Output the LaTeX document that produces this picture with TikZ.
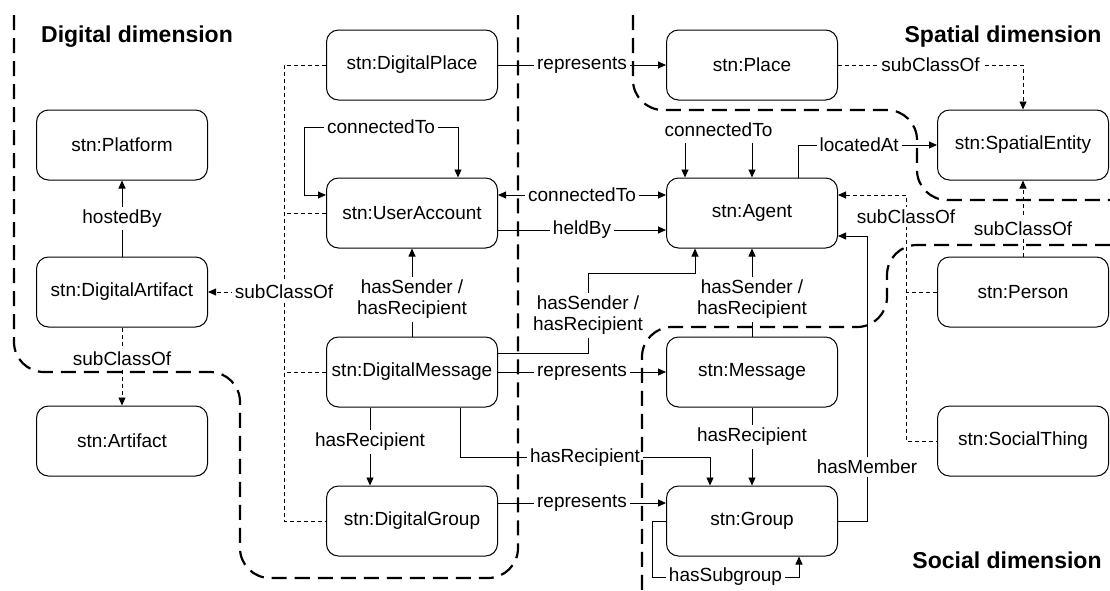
\documentclass[tikz,border=0pt]{standalone}
\usepackage{fontspec}
\setmainfont{Liberation Sans}
\usetikzlibrary{arrows.meta,calc}

\begin{document}
\begin{tikzpicture}[x=1pt,y=-1pt,line width=0.9pt,font=\fontsize{19}{21}\selectfont,
  cls/.style={draw,line width=1pt,rounded corners=12pt,minimum width=171pt,minimum height=70pt},
  lbl/.style={fill=white,inner sep=3pt,align=center},
  sub/.style={dash pattern=on 4pt off 3pt},
  region/.style={line width=2.2pt,dash pattern=on 15pt off 8pt,rounded corners=30pt},
  title/.style={font=\fontsize{23}{25}\selectfont\bfseries},
  >={Triangle[length=8pt,width=7pt]}]
\useasboundingbox (0,0) rectangle (1110,590);

\node[cls] (platform) at (122,145) {stn:Platform};
\node[cls] (dartifact) at (122,292) {stn:DigitalArtifact};
\node[cls] (artifact) at (122,441) {stn:Artifact};
\node[cls] (dplace) at (412,65) {stn:DigitalPlace};
\node[cls] (uaccount) at (412,213) {stn:UserAccount};
\node[cls] (dmessage) at (412,372) {stn:DigitalMessage};
\node[cls] (dgroup) at (412,521) {stn:DigitalGroup};
\node[cls] (place) at (752,65) {stn:Place};
\node[cls] (agent) at (752,213) {stn:Agent};
\node[cls] (message) at (752,372) {stn:Message};
\node[cls] (group) at (752,521) {stn:Group};
\node[cls] (sentity) at (1023,145) {stn:SpatialEntity};
\node[cls] (person) at (1023,292) {stn:Person};
\node[cls] (sthing) at (1023,441) {stn:SocialThing};

\node[title] (digt) at (137,37) {Digital dimension};
\node[title] (spat) at (1003,37) {Spatial dimension};
\node[title] (soct) at (1007,560) {Social dimension};

\coordinate (dtree) at ($(dplace.west)+(-42,0)$);
\coordinate (stree) at ($(agent.east)+(68,-18)$);

\draw[->] (dartifact) -- node[lbl] (hb) {hostedBy} (platform);
\draw[sub,->] (dartifact) -- node[lbl,pos=0.4] (sc1) {subClassOf} (artifact);
\draw[sub] (dplace.west) -- (dtree) |- (dgroup.west);
\draw[sub] (uaccount.west) -- (dtree |- uaccount);
\draw[sub] (dmessage.west) -- (dtree |- dmessage);
\draw[sub,->] (dtree |- dartifact) node[lbl] (sc2) {subClassOf} -- (dartifact);

\draw[<->] ([yshift=18]uaccount.west) -- ++(-22,0) -- ++(0,-68) -| node[lbl,pos=0.25] (ct1) {connectedTo} ([xshift=46]uaccount.north);
\draw[<->] ([yshift=18]uaccount.east) -- node[lbl] (ct2) {connectedTo} ([yshift=18]agent.west);
\draw[->] ([yshift=-17]uaccount.east) -- node[lbl] (hby) {heldBy} ([yshift=-17]agent.west);
\draw[<->] ([xshift=-67]agent.north) -- ++(0,-48) -| node[lbl,pos=0.25,inner ysep=7pt] (ct3) {connectedTo} (agent.north);

\draw[->] (dplace) -- node[lbl] (rp1) {represents} (place);
\draw[->] (dmessage) -- node[lbl] (rp2) {represents} (message);
\draw[->] ([yshift=18]dgroup.east) -- node[lbl] (rp3) {represents} ([yshift=18]group.west);

\draw[->] (dmessage) -- node[lbl,pos=0.42] (hs1) {hasSender /\\hasRecipient} (uaccount);
\draw[->] (message) -- node[lbl,pos=0.42] (hs2) {hasSender /\\hasRecipient} (agent);
\draw[->] ([yshift=19]dmessage.east) -- ++(90,0) -- node[lbl,pos=0.47] (hs3) {hasSender /\\hasRecipient} ++(0,-80) -| ([xshift=-57]agent.south);

\draw[->] ([xshift=-42]dmessage.south) -- node[lbl,pos=0.44] (hr1) {hasRecipient} ([xshift=-42]dgroup.north);
\draw[->] ([xshift=48]dmessage.south) -- ++(0,50) -| node[lbl,pos=0.25] (hr2) {hasRecipient} ([xshift=-42]group.north);
\draw[->] (message) -- node[lbl,pos=0.375] (hr3) {hasRecipient} (group);

\draw[->] (group.east) -- ++(29,0) |- node[lbl,pos=0.095] (hm) {hasMember} ([yshift=-23]agent.east);
\draw[->] (group.west) -- ++(-14,0) -- ++(0,56) -| node[lbl,pos=0.25] (hsg) {hasSubgroup} ([xshift=47]group.south);
\draw[->] ([xshift=46]agent.north) |- node[lbl,pos=0.72] (la) {locatedAt} (sentity);

\draw[sub,->] (place) -| node[lbl,pos=0.25] (sc3) {subClassOf} (sentity);
\draw[sub,->] (person) -- node[lbl,pos=0.37] (sc4) {subClassOf} (sentity);
\draw[sub,<-] ([yshift=18]agent.east) -- (stree) |- node[lbl,pos=0.045] (sc5) {subClassOf} (sthing.west);
\draw[sub] (person.west) -- (stree |- person);

\begin{scope}
\draw[region] (14,15) -- (14,372) -- (240,372) -- (240,578) -- (518,578) -- (518,15);
\draw[region] (633,15) -- (633,110) -- (917,110) -- (917,200) -- (1110,200);
\draw[region] (1110,245) -- (887,245) -- (887,327) -- (642,327) -- (642,590);
\end{scope}

\end{tikzpicture}
\end{document}
